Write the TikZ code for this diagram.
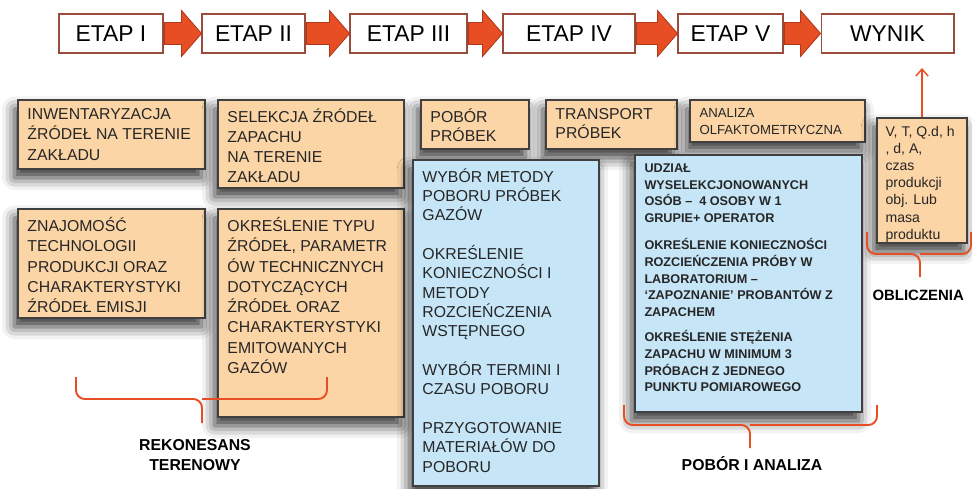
\documentclass[tikz,border=0pt]{standalone}
\usepackage{fontspec}
\setmainfont{Liberation Sans}
\usetikzlibrary{fit,calc,shadows.blur,arrows.meta}

\definecolor{pomarancz}{HTML}{FCD5A6}
\definecolor{niebieski}{HTML}{C6E6F8}
\definecolor{czerwony}{HTML}{E84E24}
\definecolor{ramka}{HTML}{9A4B3C}

\begin{document}
\begin{tikzpicture}[x=0.02cm, y=-0.02cm,
    etap/.style={draw=ramka, fill=white, line width=0.6pt, inner sep=0pt,
      minimum height=0.78cm, font=\fontsize{13}{15}\selectfont},
    blok/.style={draw=black!75, line width=0.6pt, inner sep=0pt,
      blur shadow={shadow xshift=-2pt, shadow yshift=-5pt,
        shadow blur radius=7pt, shadow opacity=80}},
    pbox/.style={blok, fill=pomarancz},
    nbox/.style={blok, fill=niebieski},
    opis/.style={anchor=north west, align=left, inner xsep=5.5pt,
      inner ysep=5pt, text=black!85},
    ptxt/.style={opis, font=\fontsize{9}{11.5}\selectfont},
    ntxt/.style={opis, font=\fontsize{9}{11}\selectfont},
    mtxt/.style={opis, font=\bfseries\fontsize{7.2}{9.5}\selectfont},
    stxt/.style={opis, font=\fontsize{7.5}{9.5}\selectfont},
    strzalka/.style={fill=czerwony, draw=czerwony!75!black, line width=0.5pt},
    klamra/.style={draw=czerwony, line width=1.1pt, rounded corners=5pt},
    podpis/.style={align=center, font=\bfseries\fontsize{9}{11}\selectfont}]
  \useasboundingbox (0,0) rectangle (972,489);

  % Etapy w gornym wierszu
  \node[etap, minimum width=2.08cm] (e1) at (111,33.5) {ETAP I};
  \node[etap, minimum width=2.06cm] (e2) at (253.5,33.5) {ETAP II};
  \node[etap, minimum width=2.34cm] (e3) at (408.5,33.5) {ETAP III};
  \node[etap, minimum width=2.64cm] (e4) at (569,33.5) {ETAP IV};
  \node[etap, minimum width=2.10cm] (e5) at (730.5,33.5) {ETAP V};
  \node[etap, minimum width=2.66cm] (wynik) at (887.5,33.5) {WYNIK};
  % Grube strzalki miedzy etapami
  \foreach \a/\b in {e1/e2, e2/e3, e3/e4, e4/e5, e5/wynik}
    \path[strzalka] ($(\a.east)+(1,-11)$) -- ($(\b.west)+(-20,-11)$)
      -- ($(\b.west)+(-20,-23)$) -- (\b.west) -- ($(\b.west)+(-20,23)$)
      -- ($(\b.west)+(-20,11)$) -- ($(\a.east)+(1,11)$) -- cycle;

  % Rekonesans terenowy
  \node[pbox, fit={(18,100)(205,169)}] (inw) {};
  \node[ptxt] at (inw.north west) {INWENTARYZACJA\\ŹRÓDEŁ NA TERENIE\\ZAKŁADU};
  \node[pbox, fit={(218,100)(404,188)}] (sel) {};
  \node[ptxt] at (sel.north west) {SELEKCJA ŹRÓDEŁ\\ZAPACHU\\NA TERENIE\\ZAKŁADU};
  \node[pbox, fit={(18,209)(205,318)}] (zna) {};
  \node[ptxt] at (zna.north west) {ZNAJOMOŚĆ\\TECHNOLOGII\\PRODUKCJI ORAZ\\CHARAKTERYSTYKI\\ŹRÓDEŁ EMISJI};
  \node[pbox, fit={(218,209)(404,417)}] (typ) {};
  \node[ptxt] at (typ.north west) {OKREŚLENIE TYPU\\ŹRÓDEŁ, PARAMETR\\ÓW TECHNICZNYCH\\DOTYCZĄCYCH\\ŹRÓDEŁ ORAZ\\CHARAKTERYSTYKI\\EMITOWANYCH\\GAZÓW};

  % Pobor probek i transport
  \node[pbox, fit={(421,100)(529,149)}] (pob) {};
  \node[ntxt] at (pob.north west) {POBÓR\\PRÓBEK};
  \node[pbox, fit={(546,100)(677,149)}] (tra) {};
  \node[ntxt] at (tra.north west) {TRANSPORT\\PRÓBEK};
  \node[nbox, fit={(413,160)(599,486)}] (met) {};
  \node[ntxt] at (met.north west) {WYBÓR METODY\\POBORU PRÓBEK\\GAZÓW\\[11pt]OKREŚLENIE\\KONIECZNOŚCI I\\METODY\\ROZCIEŃCZENIA\\WSTĘPNEGO\\[11pt]WYBÓR TERMINI I\\CZASU POBORU\\[11pt]PRZYGOTOWANIE\\MATERIAŁÓW DO\\POBORU};

  % Analiza olfaktometryczna
  \node[pbox, fit={(690,100)(865,142)}] (ana) {};
  \node[stxt] at (ana.north west) {ANALIZA\\OLFAKTOMETRYCZNA};
  \node[nbox, fit={(635,155)(862,412)}] (udz) {};
  \node[mtxt] at (udz.north west) {UDZIAŁ\\WYSELEKCJONOWANYCH\\OSÓB –\ \ 4 OSOBY W 1\\GRUPIE+ OPERATOR\\[6pt]OKREŚLENIE KONIECZNOŚCI\\ROZCIEŃCZENIA PRÓBY W\\LABORATORIUM –\\‘ZAPOZNANIE’ PROBANTÓW Z\\ZAPACHEM\\[5pt]OKREŚLENIE STĘŻENIA\\ZAPACHU W MINIMUM 3\\PRÓBACH Z JEDNEGO\\PUNKTU POMIAROWEGO};

  % Obliczenia
  \node[pbox, fit={(877,118)(967,243)}] (vt) {};
  \node[opis, font=\fontsize{8}{9.7}\selectfont, inner xsep=5pt] at (vt.north west)
    {V, T, Q.d, h\\, d, A,\\czas\\produkcji\\obj. Lub\\masa\\produktu};
  \coordinate (cel) at (922,68);
  \draw[czerwony, line width=0.8pt, -{Straight Barb[length=4pt,width=7pt]}] (vt.north) -- (cel);

  % Klamry i podpisy
  \draw[klamra] (76,377) -- (76,399) -- (202,399) -- (202,423);
  \draw[klamra] (327,377) -- (327,399) -- (202,399);
  \node[podpis] (rek) at (195,455) {REKONESANS\\TERENOWY};
  \draw[klamra] (624,405) -- (624,425) -- (750,425) -- (750,448);
  \draw[klamra] (877,405) -- (877,425) -- (750,425);
  \node[podpis] (pia) at (752,464) {POBÓR I ANALIZA};
  \draw[klamra] (867,232) -- (867,254) -- (920,254) -- (920,277);
  \draw[klamra] (971,232) -- (971,254) -- (920,254);
  \node[podpis, anchor=east, font=\bfseries\fontsize{8.5}{10}\selectfont] (obl) at (970,295) {OBLICZENIA};
\end{tikzpicture}
\end{document}
